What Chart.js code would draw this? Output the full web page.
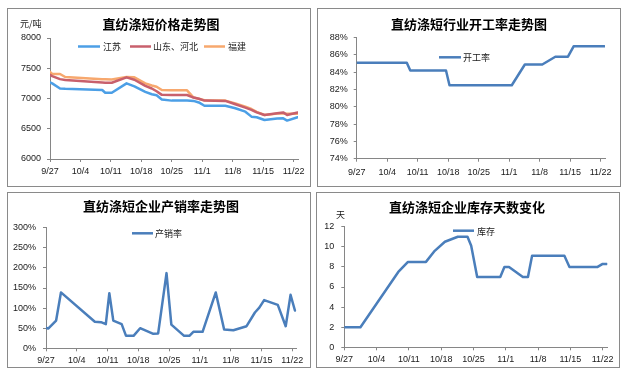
<!DOCTYPE html>
<html><head><meta charset="utf-8">
<script src="https://cdn.jsdelivr.net/npm/chart.js@4.4.1/dist/chart.umd.min.js"></script>
<style>
html,body{margin:0;padding:0;background:#fff;width:629px;height:379px;overflow:hidden;position:relative}
.panel{position:absolute;border:1px solid #8a8a8a;box-sizing:content-box}
.panel canvas{position:absolute;left:0;top:0}
</style></head><body>
<div class="panel" style="left:7px;top:8px;width:302px;height:177px"><canvas id="c1" width="302" height="177"></canvas></div>
<div class="panel" style="left:317px;top:8px;width:302px;height:177px"><canvas id="c2" width="302" height="177"></canvas></div>
<div class="panel" style="left:7px;top:192px;width:302px;height:174px"><canvas id="c3" width="302" height="174"></canvas></div>
<div class="panel" style="left:316px;top:192px;width:302px;height:174px"><canvas id="c4" width="302" height="174"></canvas></div>
<script>
// ---- shared x axis (days since 9/27) ----
const tickDays = [0, 7, 14, 21, 28, 35, 42, 49, 56];
const tickLabels = ['9/27', '10/4', '10/11', '10/18', '10/25', '11/1', '11/8', '11/15', '11/22'];

// ---- panel 1: price (元/吨) ----
const priceDays     = [0, 0.5, 2.3, 3.5, 12, 12.7, 14.2, 17.6, 19.4, 21.9, 23.4, 24.5, 25.7, 28, 31.5, 33, 34.2, 35.5, 40.3, 42.6, 44.9, 46.3, 47.5, 49.3, 52.2, 53.6, 54.5, 56.9];
const priceJiangsu  = [7265, 7250, 7165, 7160, 7140, 7095, 7095, 7250, 7200, 7110, 7070, 7055, 6985, 6965, 6965, 6960, 6935, 6880, 6880, 6838, 6782, 6700, 6690, 6645, 6670, 6672, 6635, 6690];
const priceShandong = [7390, 7370, 7320, 7305, 7265, 7262, 7260, 7350, 7310, 7210, 7165, 7120, 7060, 7058, 7058, 7015, 6995, 6965, 6960, 6905, 6850, 6812, 6770, 6727, 6755, 6770, 6727, 6770];
const priceFujian   = [7440, 7405, 7405, 7355, 7320, 7318, 7315, 7355, 7350, 7250, 7215, 7195, 7140, 7135, 7135, 7015, 6995, 6970, 6965, 6920, 6865, 6826, 6780, 6727, 6750, 6752, 6750, 6750];
const priceSeries = ['江苏', '山东、河北', '福建'];

// ---- panel 2: operating rate (%) ----
const rateDays   = [0, 11.5, 12.3, 20.5, 21.3, 35.6, 38.6, 42.6, 45.6, 48.5, 49.8, 56.9];
const rateValues = [85.1, 85.1, 84.2, 84.2, 82.5, 82.5, 84.9, 84.9, 85.8, 85.8, 87.0, 87.0];

// ---- panel 3: production/sales ratio (%) ----
const salesDays   = [0, 0.5, 2.3, 3.4, 11.1, 12.5, 13.6, 14.4, 15.3, 17.2, 18.2, 19.9, 21.4, 24.4, 25.5, 27.4, 28.5, 31.4, 32.6, 33.5, 35.6, 38.6, 40.5, 42.6, 45.6, 47.5, 48.5, 49.6, 52.7, 54.5, 55.6, 56.6];
const salesValues = [51, 49, 69, 139, 66, 65, 60, 137, 69, 60, 31, 31, 50, 36, 37, 187, 59, 31, 31, 41, 41, 139, 47, 45, 55, 89, 101, 120, 108, 55, 133, 94];

// ---- panel 4: inventory days ----
const invDays   = [0, 3.5, 11.7, 13.8, 17.7, 19.6, 21.8, 24.6, 26.7, 27.5, 28.8, 33.8, 34.7, 35.7, 38.7, 39.8, 40.7, 47.7, 48.8, 54.9, 56, 56.9];
const invValues = [2, 2, 7.5, 8.5, 8.5, 9.6, 10.5, 11, 11, 10.1, 7, 7, 8, 8, 7, 7, 9.1, 9.1, 8, 8, 8.3, 8.3];

const AXIS = '#868686';
const TXT = '#1a1a1a';
const LATIN = '"Liberation Sans", Arial, "Noto Sans CJK SC", sans-serif';
const CJK = '"Noto Sans CJK SC", "Noto Sans", sans-serif';

const pts = (xs, ys) => xs.map((x, i) => ({x, y: ys[i]}));

const overlay = {
  id: 'overlay',
  afterDraw(chart, args, o) {
    const ctx = chart.ctx;
    ctx.save();
    ctx.textBaseline = 'middle';
    ctx.fillStyle = '#000';
    ctx.font = 'bold 13px ' + CJK;
    ctx.textAlign = 'center';
    ctx.fillText(o.title, o.tx - o.ox, o.ty - o.oy);
    ctx.font = '9px ' + CJK;
    ctx.textAlign = 'left';
    ctx.fillStyle = TXT;
    if (o.unit) ctx.fillText(o.unit, o.ux - o.ox, o.uy - o.oy);
    o.legend.forEach((L, i) => {
      const ds = chart.data.datasets[i];
      ctx.strokeStyle = ds.borderColor;
      ctx.lineWidth = ds.borderWidth;
      ctx.beginPath();
      ctx.moveTo(L.x1 - o.ox, L.y - o.oy);
      ctx.lineTo(L.x2 - o.ox, L.y - o.oy);
      ctx.stroke();
      ctx.fillStyle = TXT;
      ctx.fillText(ds.label, L.tx - o.ox, L.y - o.oy + 0.5);
    });
    ctx.restore();
  }
};

function mk(id, P) {
  const w = P.w, h = P.h;
  const padding = {
    left: Math.max(0, P.plot.l - P.ox - P.yw),
    top: P.plot.t - P.oy,
    right: w - (P.plot.r - P.ox),
    bottom: Math.max(0, h - (P.plot.b - P.oy) - P.xh)
  };
  const grid = {display: true, drawOnChartArea: false, drawTicks: true, tickLength: 3, color: AXIS};
  return new Chart(document.getElementById(id), {
    type: 'line',
    data: {datasets: P.datasets.map(d => Object.assign({
      borderWidth: 2.5, pointRadius: 0, tension: 0, fill: false,
      borderJoinStyle: 'round', borderCapStyle: 'round'
    }, d))},
    options: {
      responsive: false, animation: false, devicePixelRatio: 1,
      layout: {padding},
      plugins: {legend: {display: false}, tooltip: {enabled: false}, title: {display: false}, overlay: P.overlay},
      scales: {
        x: {
          type: 'linear', min: 0, max: 57,
          afterBuildTicks: s => { s.ticks = tickDays.map(v => ({value: v})); },
          afterFit: s => { s.height = P.xh; },
          ticks: {autoSkip: false, maxRotation: 0, padding: P.xpad, color: TXT,
                  font: {family: LATIN, size: 9},
                  callback: v => tickLabels[tickDays.indexOf(v)]},
          grid, border: {display: true, color: AXIS, width: 1}
        },
        y: {
          min: P.ymin, max: P.ymax,
          afterFit: s => { s.width = P.yw; },
          ticks: {stepSize: P.ystep, padding: P.ypad, color: TXT, font: {family: LATIN, size: 9},
                  callback: P.yfmt},
          grid, border: {display: true, color: AXIS, width: 1}
        }
      }
    },
    plugins: [overlay]
  });
}

// panel 1
mk('c1', {
  w: 302, h: 177, ox: 8, oy: 9, plot: {l: 50, t: 38, r: 298, b: 159}, yw: 38, xh: 18, xpad: 4.5, ypad: 6,
  ymin: 6000, ymax: 8000, ystep: 500, yfmt: v => String(v),
  datasets: [
    {label: priceSeries[0], data: pts(priceDays, priceJiangsu), borderColor: '#4C9FE6'},
    {label: priceSeries[1], data: pts(priceDays, priceShandong), borderColor: '#C8606C'},
    {label: priceSeries[2], data: pts(priceDays, priceFujian), borderColor: '#F7A86E'}
  ],
  overlay: {ox: 8, oy: 9, title: '直纺涤短价格走势图', tx: 161, ty: 24, unit: '元/吨', ux: 20, uy: 23.5,
    legend: [{x1: 78, x2: 100, tx: 103, y: 46.5}, {x1: 130, x2: 151, tx: 153, y: 46.5}, {x1: 204, x2: 225, tx: 228, y: 46.5}]}
});

// panel 2
mk('c2', {
  w: 302, h: 177, ox: 318, oy: 9, plot: {l: 356.7, t: 37.7, r: 605, b: 158.7}, yw: 36, xh: 18, xpad: 5, ypad: 6,
  ymin: 74, ymax: 88, ystep: 2, yfmt: v => v + '%',
  datasets: [{label: '开工率', data: pts(rateDays, rateValues), borderColor: '#4A7EBB'}],
  overlay: {ox: 318, oy: 9, title: '直纺涤短行业开工率走势图', tx: 469, ty: 24,
    legend: [{x1: 439, x2: 461, tx: 463, y: 57.3}]}
});

// panel 3
mk('c3', {
  w: 302, h: 174, ox: 8, oy: 193, plot: {l: 46, t: 227.7, r: 296.7, b: 348.3}, yw: 38, xh: 18.7, xpad: 3.5, ypad: 7,
  ymin: 0, ymax: 300, ystep: 50, yfmt: v => v + '%',
  datasets: [{label: '产销率', data: pts(salesDays, salesValues), borderColor: '#4A7EBB'}],
  overlay: {ox: 8, oy: 193, title: '直纺涤短企业产销率走势图', tx: 161, ty: 206.5,
    legend: [{x1: 132, x2: 153, tx: 155, y: 233.3}]}
});

// panel 4
mk('c4', {
  w: 302, h: 174, ox: 317, oy: 193, plot: {l: 344.3, t: 226.7, r: 607.3, b: 347.3}, yw: 26, xh: 18.7, xpad: 4, ypad: 7,
  ymin: 0, ymax: 12, ystep: 2, yfmt: v => String(v),
  datasets: [{label: '库存', data: pts(invDays, invValues), borderColor: '#4A7EBB'}],
  overlay: {ox: 317, oy: 193, title: '直纺涤短企业库存天数变化', tx: 467, ty: 207, unit: '天', ux: 336, uy: 215,
    legend: [{x1: 453, x2: 474, tx: 477, y: 230.7}]}
});
</script>
</body></html>
